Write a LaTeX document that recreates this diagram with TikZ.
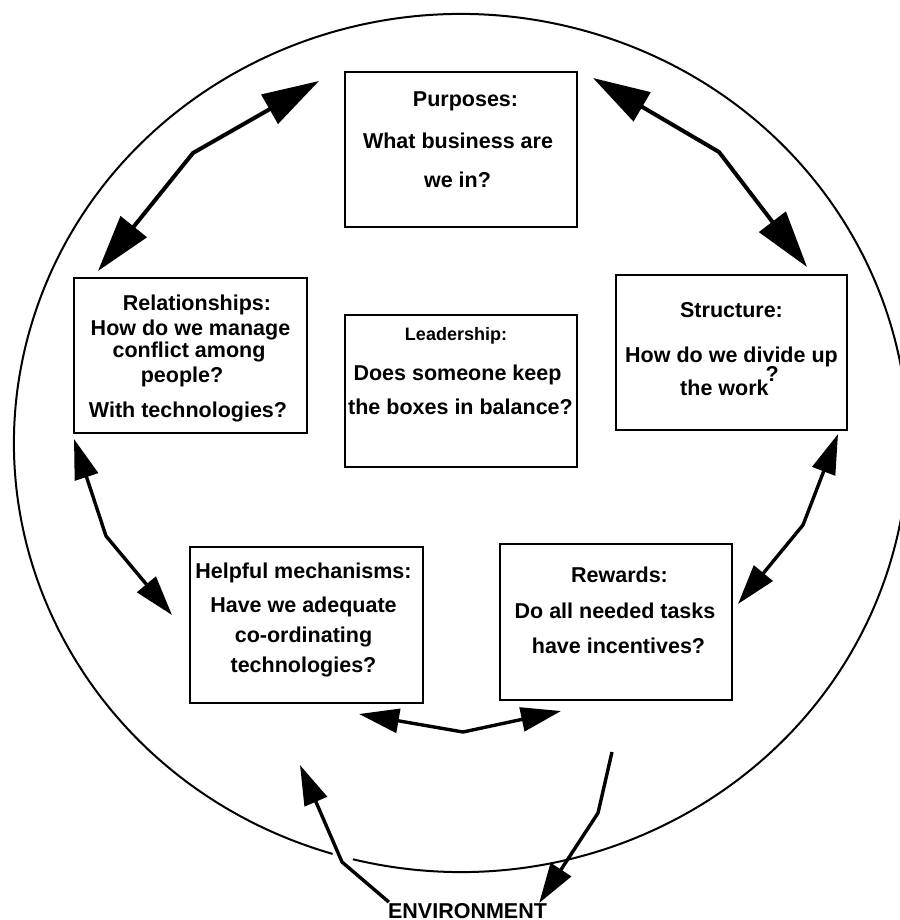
\documentclass[tikz,border=0pt]{standalone}
\usepackage{fontspec}
\setmainfont{Liberation Sans}
\usetikzlibrary{arrows.meta,calc}
\begin{document}
\begin{tikzpicture}[x=1pt,y=-1pt,
  box/.style={draw, line width=2pt, inner sep=0pt, rectangle},
  txt/.style={font=\bfseries\fontsize{21.5}{24}\selectfont, inner sep=0pt, text height=15.5pt, text depth=0pt},
  smalltxt/.style={txt, font=\bfseries\fontsize{18}{20}\selectfont, text height=13pt},
  bigarr/.style={line width=4pt, line join=round, {Triangle[length=57pt,width=33pt]}-{Triangle[length=57pt,width=33pt]}},
  arr/.style={line width=3.4pt, line join=round, {Triangle[length=40pt,width=24pt]}-{Triangle[length=40pt,width=24pt]}},
  onearr/.style={line width=3.4pt, line join=round, -{Triangle[length=40pt,width=24pt]}},
]
\useasboundingbox (0,0) rectangle (899,920);

% the surrounding environment ring, opened where the inflow arrow crosses it
\coordinate (ctr) at (461,443);
\draw[line width=2pt] ($(ctr)+(106.7:447 and 429)$) arc[start angle=106.7, end angle=464, x radius=447, y radius=429];

% the six boxes
\node[box, minimum width=232, minimum height=155] (purp)  at (461,149.5) {};
\node[box, minimum width=233, minimum height=155] (rel)   at (190.5,355.5) {};
\node[box, minimum width=232, minimum height=152] (lead)  at (461,391) {};
\node[box, minimum width=231, minimum height=155] (struc) at (731.5,352.5) {};
\node[box, minimum width=233, minimum height=156] (help)  at (306.5,625) {};
\node[box, minimum width=232, minimum height=156] (rew)   at (616,622) {};

% box texts, one node per line
\foreach \t/\xx/\yy [count=\i] in {Purposes:/465.5/98.5, What business are/458/140.5, we in?/457.5/179.5}
  \node[txt] (purp-\i) at (\xx,\yy) {\t};
\foreach \t/\xx/\yy [count=\i] in {Relationships:/197/302.5, How do we manage/190.5/327.5, conflict among/189/349.5, people?/182/375, With technologies?/188/409.5}
  \node[txt] (rel-\i) at (\xx,\yy) {\t};
\node[smalltxt] (lead-1) at (456,333.5) {Leadership:};
\foreach \t/\xx/\yy [count=\i from 2] in {Does someone keep/457.5/372.5, the boxes in balance?/460.5/406.5}
  \node[txt] (lead-\i) at (\xx,\yy) {\t};
\foreach \t/\xx/\yy [count=\i] in {Structure:/731.5/309.5, How do we divide up/731.5/355, {the work\hspace{-3pt}\raisebox{14pt}{?}}/729.5/388}
  \node[txt] (struc-\i) at (\xx,\yy) {\t};
\foreach \t/\xx/\yy [count=\i] in {Helpful mechanisms:/303.5/570.5, Have we adequate/303.5/604.5, co-ordinating/303.5/634.5, technologies?/303.5/665}
  \node[txt] (help-\i) at (\xx,\yy) {\t};
\foreach \t/\xx/\yy [count=\i] in {Rewards:/619.5/574.5, Do all needed tasks/615/610.5, have incentives?/618.5/645.5}
  \node[txt] (rew-\i) at (\xx,\yy) {\t};

\node[txt] (env) at (467.5,911) {ENVIRONMENT};

% two-way links between neighbouring boxes
\draw[bigarr] ($(purp.north west)+(-25,10)$) -- (193,153) -- ($(rel.north west)+(25,-6)$);
\draw[bigarr] ($(purp.north east)+(15,7)$) -- (719,152) -- ($(struc.north east)+(-41,-7)$);
\draw[arr] ($(struc.south east)+(-10,3)$) -- (803,525) -- ($(rew.east)+(5,-18)$);
\draw[arr] ($(rel.south west)+(1,5)$) -- (106,536) -- ($(help.west)+(-17,-10)$);
\draw[arr] ($(help.south east)+(-65,10)$) -- (463,732) -- ($(rew.south west)+(62,10)$);

% exchange with the environment
\coordinate (envin) at (300,765);
\coordinate (envout) at (612,752);
\draw[onearr] ($(env.north west)+(1,-1)$) -- (342,862) -- (envin);
\draw[onearr] (envout) -- (598,813) -- ($(env.north east)+(-8,0)$);
\end{tikzpicture}
\end{document}
